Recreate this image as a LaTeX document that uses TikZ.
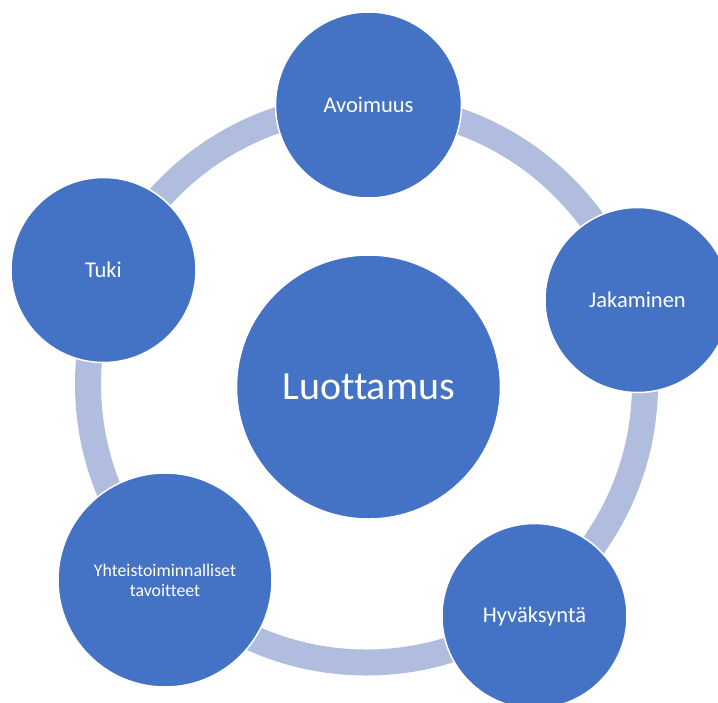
\documentclass[tikz,border=0pt]{standalone}
\usepackage{fontspec}
\setmainfont{Carlito}[Ligatures=NoCommon]
\definecolor{bubble}{RGB}{68,114,196}
\definecolor{ringc}{RGB}{176,189,222}
\begin{document}
\begin{tikzpicture}[x=1pt,y=-1pt,
  bubble/.style={circle,fill=bubble,draw=white,line width=1.5pt,inner sep=0pt,
    text=white,align=center,font=\fontsize{22.5}{27}\selectfont},
  ringline/.style={draw=ringc,line width=26pt}]
\useasboundingbox (0,0) rectangle (718,702);
\coordinate (rc) at (366.5,384);
\draw[ringline] (rc) circle[radius=278.5pt];
\node[bubble,minimum size=264pt,font=\fontsize{40}{48}\selectfont] (center) at (368.5,387) {Luottamus};
\node[bubble,minimum size=186pt] (avo) at (368.5,105) {Avoimuus};
\node[bubble,minimum size=185pt] (tuki) at (103.5,270) {Tuki};
\node[bubble,minimum size=185pt] (jak) at (637.5,300) {Jakaminen};
\node[bubble,minimum size=185pt] (hyv) at (534.5,616) {Hyväksyntä};
\node[bubble,minimum size=214pt,font=\fontsize{17.8}{20}\selectfont] (yht) at (165,580) {Yhteistoiminnalliset\\tavoitteet};
\end{tikzpicture}
\end{document}
